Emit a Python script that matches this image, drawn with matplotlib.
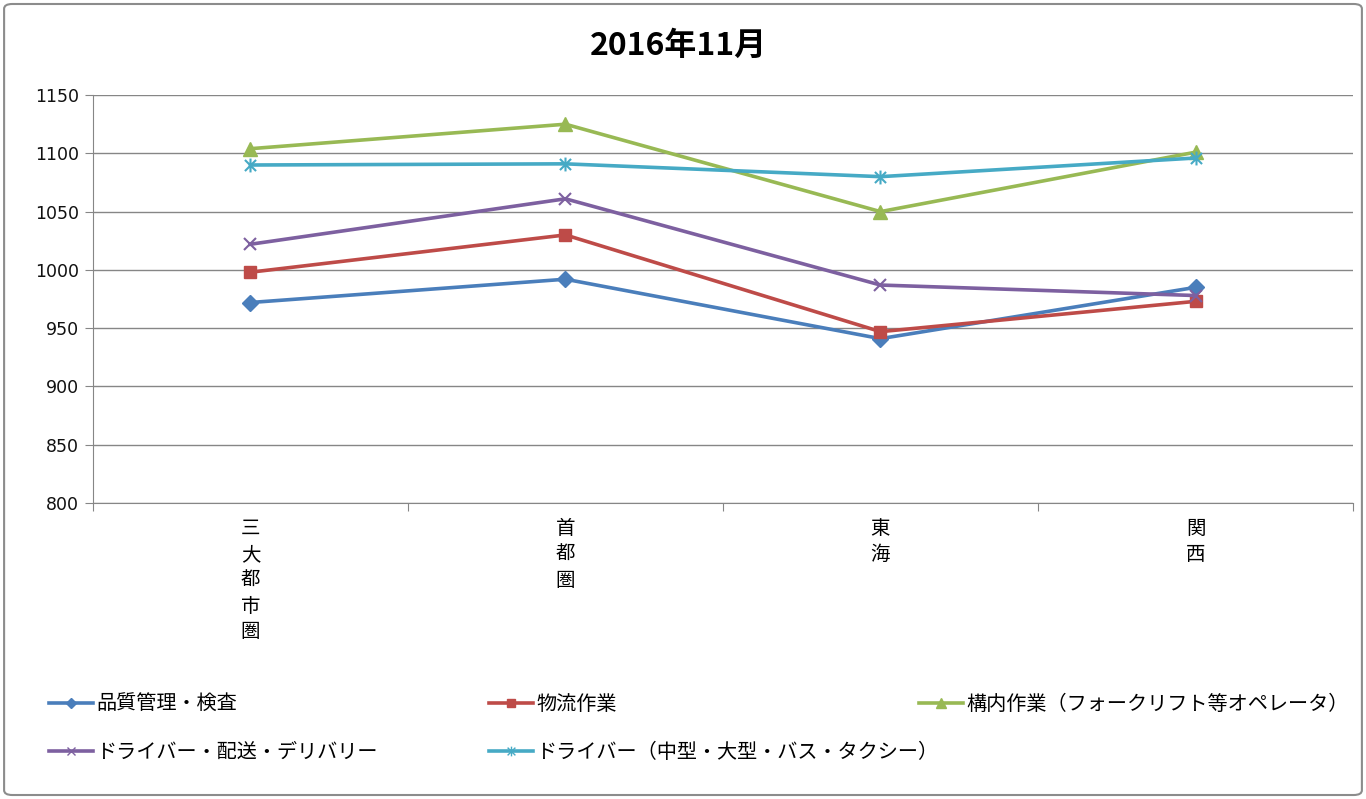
import matplotlib
matplotlib.use('Agg')
import matplotlib.pyplot as plt
from matplotlib.path import Path
from matplotlib.patches import FancyBboxPatch
from matplotlib.lines import Line2D

plt.rcParams['font.family'] = ['Noto Sans CJK JP', 'DejaVu Sans']

title = '2016年11月'
regions = ['三大都市圏', '首都圏', '東海', '関西']
series_names = ['品質管理・検査', '物流作業', '構内作業（フォークリフト等オペレータ）',
                'ドライバー・配送・デリバリー', 'ドライバー（中型・大型・バス・タクシー）']
quality = [972, 992, 941, 985]
logistics = [998, 1030, 947, 973]
forklift = [1104, 1125, 1050, 1101]
delivery = [1022, 1061, 987, 978]
driver = [1090, 1091, 1080, 1096]
y_ticks = [800, 850, 900, 950, 1000, 1050, 1100, 1150]

# asterisk marker: vertical line + x
star = Path([(0, -1), (0, 1), (-0.8, -0.8), (0.8, 0.8), (-0.8, 0.8), (0.8, -0.8)],
            [Path.MOVETO, Path.LINETO, Path.MOVETO, Path.LINETO, Path.MOVETO, Path.LINETO])

styles = [
    ('#4A7EBB', 'D', 8),
    ('#BE4B48', 's', 9),
    ('#98B954', '^', 10),
    ('#7D60A0', 'x', 9),
    ('#46AAC5', star, 10),
]
data = [quality, logistics, forklift, delivery, driver]

fig = plt.figure(figsize=(13.66, 7.99), dpi=100)
fig.patches.append(FancyBboxPatch((0.003, 0.005), 0.994, 0.99, boxstyle='round,pad=0,rounding_size=0.006',
                                  transform=fig.transFigure, fill=False, edgecolor='#8c8c8c', lw=1.5))
ax = fig.add_axes([0.068, 0.3705, 0.9225, 0.5105])

x = list(range(len(regions)))
for vals, (c, m, ms), name in zip(data, styles, series_names):
    mew = 1.5 if m in ('x',) or m is star else 1
    ax.plot(x, vals, color=c, lw=2.6, marker=m, markersize=ms,
            markeredgewidth=mew, markerfacecolor=c, markeredgecolor=c, label=name)

ax.set_xlim(-0.5, 3.5)
ax.set_ylim(800, 1150)
ax.set_yticks(y_ticks)
ax.set_yticklabels([str(v) for v in y_ticks], fontsize=12.5, family=['DejaVu Sans'])
ax.yaxis.grid(True, color='#868686', lw=1)
ax.set_axisbelow(True)
for s in ['top', 'right']:
    ax.spines[s].set_visible(False)
for s in ['left', 'bottom']:
    ax.spines[s].set_color('#868686')
ax.tick_params(axis='y', length=6, color='#868686', pad=4, labelcolor='#111111')

ax.set_xticks([-0.5, 0.5, 1.5, 2.5, 3.5])
ax.set_xticklabels([])
ax.tick_params(axis='x', length=6, color='#868686')
for i, r in enumerate(regions):
    ax.text(i, 787, '\n'.join(r), ha='center', va='top', fontsize=14,
            linespacing=1.3, clip_on=False)

fig.text(0.497, 0.943, title, ha='center', va='center', fontsize=23, fontweight='bold')

cols = [(0, 3), (1, 4), (2,)]
xpos = [0.030, 0.352, 0.667]
for xp, idxs in zip(xpos, cols):
    hs = [Line2D([], [], color=styles[i][0], lw=2.6, marker=styles[i][1],
                 markersize=styles[i][2] * 0.7, markerfacecolor=styles[i][0],
                 markeredgecolor=styles[i][0]) for i in idxs]
    fig.legend(hs, [series_names[i] for i in idxs], loc='upper left',
               bbox_to_anchor=(xp, 0.142), fontsize=14.5, frameon=False,
               handlelength=2.2, handletextpad=0.15, labelspacing=1.35,
               borderaxespad=0)

fig.savefig('out.png', dpi=100)
